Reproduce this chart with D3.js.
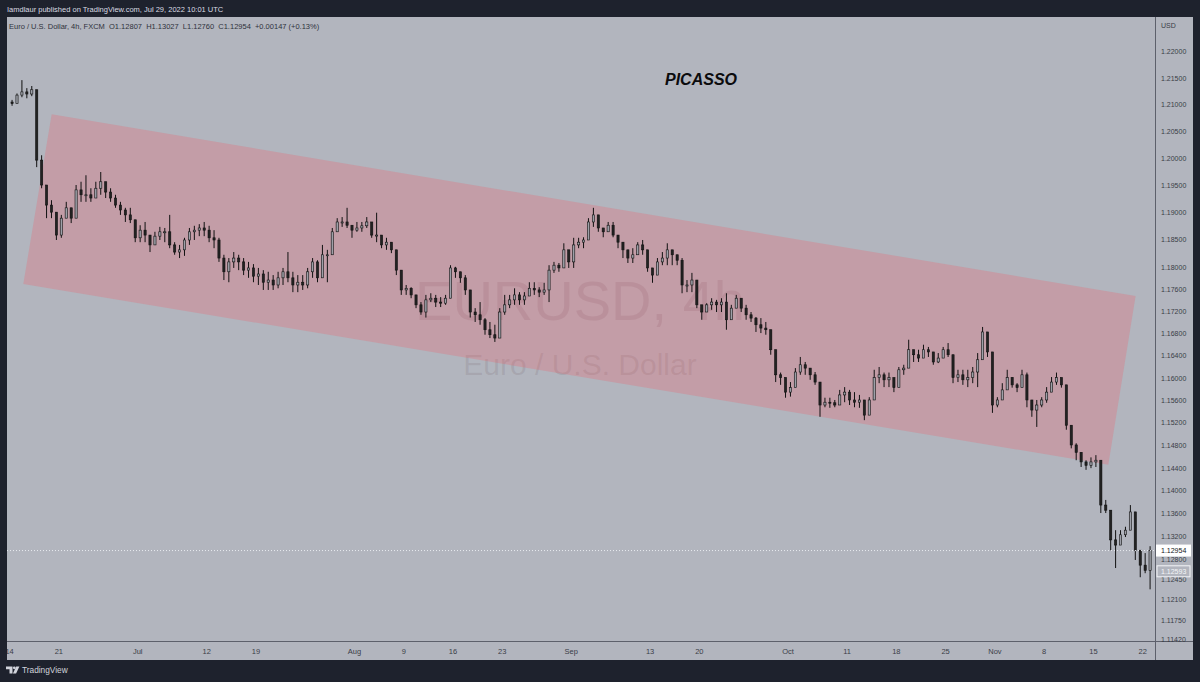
<!DOCTYPE html>
<html><head><meta charset="utf-8">
<script src="https://cdn.jsdelivr.net/npm/d3@7"></script>
<style>html,body{margin:0;padding:0;background:#1e222d;}svg{display:block;}</style>
</head><body><svg id="c" width="1200" height="682"></svg>
<script>
// ---------- DATA (EURUSD, 12h-resolution reading of the 4h chart) ----------
const openFirst = 1.2105;
const highs = [
1.2109,1.2121,1.2146,1.2131,1.2135,1.2128,1.2006,1.1927,1.1923,1.1890,
1.1896,1.1920,1.1909,1.1951,1.1957,1.1969,1.1945,1.1957,1.1975,1.1951,
1.1945,1.1933,1.1920,1.1909,1.1909,1.1883,1.1877,1.1883,1.1854,1.1865,
1.1874,1.1872,1.1896,1.1846,1.1841,1.1854,1.1872,1.1876,1.1879,1.1883,
1.1876,1.1868,1.1854,1.1823,1.1817,1.1828,1.1823,1.1817,1.1810,1.1806,
1.1799,1.1795,1.1792,1.1786,1.1792,1.1799,1.1828,1.1792,1.1786,1.1786,
1.1799,1.1817,1.1813,1.1841,1.1832,1.1872,1.1890,1.1892,1.1909,1.1877,
1.1883,1.1883,1.1892,1.1883,1.1900,1.1859,1.1854,1.1846,1.1828,1.1786,
1.1768,1.1764,1.1750,1.1737,1.1750,1.1753,1.1750,1.1746,1.1750,1.1804,
1.1801,1.1792,1.1786,1.1755,1.1726,1.1737,1.1708,1.1701,1.1696,1.1726,
1.1750,1.1750,1.1762,1.1755,1.1755,1.1773,1.1773,1.1764,1.1772,1.1804,
1.1810,1.1808,1.1844,1.1817,1.1854,1.1854,1.1855,1.1890,1.1909,1.1887,
1.1872,1.1883,1.1883,1.1859,1.1844,1.1828,1.1835,1.1846,1.1850,1.1823,
1.1799,1.1817,1.1828,1.1844,1.1828,1.1823,1.1817,1.1777,1.1790,1.1755,
1.1732,1.1735,1.1744,1.1741,1.1744,1.1753,1.1732,1.1750,1.1741,1.1732,
1.1719,1.1710,1.1708,1.1701,1.1683,1.1647,1.1610,1.1588,1.1593,1.1618,
1.1638,1.1629,1.1618,1.1611,1.1593,1.1565,1.1565,1.1561,1.1579,1.1584,
1.1579,1.1575,1.1570,1.1543,1.1566,1.1615,1.1620,1.1610,1.1610,1.1601,
1.1620,1.1624,1.1669,1.1651,1.1651,1.1660,1.1656,1.1638,1.1645,1.1656,
1.1663,1.1620,1.1615,1.1615,1.1615,1.1620,1.1645,1.1692,1.1681,1.1597,
1.1566,1.1591,1.1615,1.1602,1.1591,1.1615,1.1610,1.1561,1.1561,1.1566,
1.1584,1.1602,1.1610,1.1601,1.1584,1.1513,1.1484,1.1466,1.1454,1.1459,
1.1463,1.1449,1.1384,1.1366,1.1331,1.1331,1.1337,1.1375,1.1361,1.1296,
1.1291,1.1303];
const lows = [
1.2098,1.2103,1.2114,1.2112,1.2116,1.1984,1.1945,1.1890,1.1890,1.1850,
1.1854,1.1896,1.1881,1.1914,1.1920,1.1920,1.1920,1.1927,1.1933,1.1927,
1.1920,1.1909,1.1896,1.1883,1.1881,1.1846,1.1846,1.1846,1.1828,1.1841,
1.1850,1.1846,1.1835,1.1823,1.1817,1.1821,1.1841,1.1850,1.1857,1.1857,
1.1846,1.1835,1.1810,1.1777,1.1773,1.1799,1.1795,1.1786,1.1781,1.1773,
1.1768,1.1759,1.1759,1.1759,1.1762,1.1768,1.1773,1.1755,1.1755,1.1759,
1.1762,1.1781,1.1773,1.1781,1.1773,1.1823,1.1865,1.1874,1.1872,1.1854,
1.1865,1.1865,1.1872,1.1854,1.1846,1.1835,1.1832,1.1826,1.1786,1.1750,
1.1750,1.1744,1.1726,1.1714,1.1709,1.1737,1.1728,1.1728,1.1732,1.1744,
1.1781,1.1772,1.1750,1.1709,1.1701,1.1696,1.1678,1.1672,1.1665,1.1678,
1.1714,1.1726,1.1732,1.1732,1.1732,1.1750,1.1750,1.1746,1.1750,1.1737,
1.1790,1.1792,1.1810,1.1799,1.1799,1.1835,1.1835,1.1865,1.1874,1.1865,
1.1855,1.1865,1.1855,1.1835,1.1817,1.1808,1.1808,1.1826,1.1823,1.1792,
1.1772,1.1801,1.1804,1.1804,1.1804,1.1804,1.1753,1.1755,1.1755,1.1726,
1.1705,1.1719,1.1723,1.1719,1.1719,1.1687,1.1709,1.1732,1.1719,1.1705,
1.1701,1.1683,1.1681,1.1678,1.1642,1.1593,1.1588,1.1565,1.1567,1.1593,
1.1606,1.1606,1.1597,1.1588,1.1531,1.1548,1.1547,1.1548,1.1552,1.1557,
1.1552,1.1548,1.1547,1.1525,1.1540,1.1584,1.1591,1.1584,1.1584,1.1575,
1.1597,1.1606,1.1638,1.1629,1.1629,1.1642,1.1638,1.1624,1.1627,1.1636,
1.1638,1.1591,1.1593,1.1588,1.1584,1.1591,1.1584,1.1669,1.1638,1.1538,
1.1548,1.1561,1.1591,1.1583,1.1575,1.1584,1.1548,1.1531,1.1513,1.1548,
1.1556,1.1579,1.1588,1.1583,1.1508,1.1475,1.1454,1.1442,1.1437,1.1440,
1.1442,1.1361,1.1361,1.1296,1.1265,1.1314,1.1319,1.1349,1.1279,1.1249,
1.1256,1.1228];
const closes = [
1.2102,1.2118,1.2124,1.2120,1.2128,1.1997,1.1951,1.1914,1.1901,1.1859,
1.1890,1.1909,1.1890,1.1942,1.1933,1.1933,1.1927,1.1945,1.1957,1.1938,
1.1927,1.1914,1.1905,1.1896,1.1887,1.1854,1.1868,1.1859,1.1841,1.1857,
1.1865,1.1865,1.1841,1.1828,1.1832,1.1850,1.1865,1.1868,1.1872,1.1868,
1.1854,1.1850,1.1817,1.1792,1.1810,1.1817,1.1810,1.1795,1.1799,1.1784,
1.1788,1.1773,1.1777,1.1768,1.1781,1.1792,1.1781,1.1768,1.1773,1.1768,
1.1792,1.1810,1.1781,1.1823,1.1823,1.1865,1.1883,1.1883,1.1877,1.1868,
1.1872,1.1876,1.1883,1.1859,1.1859,1.1841,1.1846,1.1832,1.1795,1.1759,
1.1762,1.1750,1.1732,1.1719,1.1741,1.1744,1.1737,1.1735,1.1744,1.1799,
1.1792,1.1781,1.1759,1.1719,1.1714,1.1705,1.1687,1.1678,1.1672,1.1719,
1.1732,1.1741,1.1750,1.1741,1.1748,1.1762,1.1759,1.1755,1.1759,1.1795,
1.1804,1.1799,1.1832,1.1810,1.1841,1.1846,1.1850,1.1883,1.1896,1.1872,
1.1865,1.1877,1.1859,1.1846,1.1832,1.1817,1.1823,1.1841,1.1832,1.1799,
1.1786,1.1810,1.1817,1.1832,1.1823,1.1813,1.1768,1.1768,1.1777,1.1732,
1.1719,1.1732,1.1737,1.1732,1.1737,1.1705,1.1726,1.1744,1.1726,1.1714,
1.1708,1.1696,1.1690,1.1687,1.1651,1.1606,1.1601,1.1575,1.1583,1.1611,
1.1624,1.1618,1.1606,1.1593,1.1552,1.1557,1.1556,1.1552,1.1570,1.1575,
1.1561,1.1557,1.1561,1.1534,1.1561,1.1601,1.1606,1.1597,1.1601,1.1583,
1.1615,1.1618,1.1651,1.1642,1.1636,1.1651,1.1647,1.1629,1.1636,1.1651,
1.1642,1.1601,1.1606,1.1597,1.1601,1.1611,1.1633,1.1683,1.1647,1.1552,
1.1561,1.1579,1.1601,1.1588,1.1583,1.1606,1.1561,1.1543,1.1552,1.1561,
1.1575,1.1593,1.1601,1.1588,1.1516,1.1481,1.1468,1.1451,1.1445,1.1451,
1.1454,1.1375,1.1366,1.1314,1.1305,1.1323,1.1331,1.1363,1.1296,1.1270,
1.1261,1.12954];

// x-axis: trading-day index (Jun 14 2021 = 0)
const xTickDays   = [0,5,13,20,25,35,40,45,50,57,65,70,79,85,90,95,100,105,110,115];
const xTickLabels = ["14","21","Jul","12","19","Aug","9","16","23","Sep","13","20","Oct","11","18","25","Nov","8","15","22"];
// y-axis (log price scale)
const yTicks = [1.22,1.215,1.21,1.205,1.20,1.195,1.19,1.185,1.18,1.176,1.172,1.168,1.164,1.16,1.156,1.152,1.148,1.144,1.14,1.136,1.132,1.128,1.1245,1.121,1.1175,1.1142];
const lastPrice = 1.12954;
const otherLevel = 1.12593;
// parallel channel drawing (day, price) corners
const channelDays   = [4.27, 114.28, 111.51, 1.39];
const channelPrices = [1.2082, 1.1748, 1.1446, 1.1770];

// ---------- LAYOUT ----------
const W = 1200, H = 682;
const P = {left: 7, top: 17, right: 1193, bottom: 660, plotR: 1155, plotB: 641};
const FONT = "'Liberation Sans', Arial, sans-serif";

const svg = d3.select("#c");
const x = d3.scaleLinear().domain([0, 115]).range([9.6, 1142.7]);
const y = d3.scaleLog().domain([1.1175, 1.215]).range([620, 78]);

svg.append("rect").attr("width", W).attr("height", H).attr("fill", "#1e222d");
svg.append("rect").attr("x", P.left).attr("y", P.top)
  .attr("width", P.right - P.left).attr("height", P.bottom - P.top).attr("fill", "#b2b5be");

const defs = svg.append("defs");
defs.append("clipPath").attr("id", "plot").append("rect")
  .attr("x", P.left).attr("y", P.top).attr("width", P.plotR - P.left).attr("height", P.plotB - P.top);
defs.append("clipPath").attr("id", "xax").append("rect")
  .attr("x", P.left).attr("y", P.plotB).attr("width", P.plotR - P.left).attr("height", P.bottom - P.plotB);

const plot = svg.append("g").attr("clip-path", "url(#plot)");

// watermark
plot.append("text").attr("x", 580).attr("y", 320).attr("text-anchor", "middle")
  .attr("font-family", FONT).attr("font-size", 56).attr("fill", "rgba(110,85,100,0.17)")
  .text("EURUSD, 4h");
plot.append("text").attr("x", 580).attr("y", 375).attr("text-anchor", "middle")
  .attr("font-family", FONT).attr("font-size", 30).attr("fill", "rgba(110,85,100,0.17)")
  .text("Euro / U.S. Dollar");

// channel
plot.append("polygon")
  .attr("points", channelDays.map((d, i) => [x(d), y(channelPrices[i])].join(",")).join(" "))
  .attr("fill", "rgba(245,90,100,0.26)");

// candles
const bars = closes.map((c, i) => {
  const o = i === 0 ? openFirst : closes[i - 1];   // FX bar opens at previous close
  return {t: i * 0.5 + 0.25, o, c, h: Math.max(highs[i], o, c), l: Math.min(lows[i], o, c)};
});
const cg = plot.append("g");
cg.selectAll("line.w").data(bars).join("line")
  .attr("x1", d => x(d.t)).attr("x2", d => x(d.t))
  .attr("y1", d => y(d.h)).attr("y2", d => y(d.l))
  .attr("stroke", "#111").attr("stroke-width", 1);
cg.selectAll("rect.b").data(bars).join("rect")
  .attr("x", d => x(d.t) - 1.1).attr("width", 2.2)
  .attr("y", d => y(Math.max(d.o, d.c)))
  .attr("height", d => Math.max(1, Math.abs(y(d.o) - y(d.c))))
  .attr("fill", d => d.c >= d.o ? "#9da0a8" : "#222")
  .attr("stroke", "#111").attr("stroke-width", 0.6);

// last price dotted line
plot.append("line").attr("x1", P.left).attr("x2", P.plotR)
  .attr("y1", y(lastPrice)).attr("y2", y(lastPrice))
  .attr("stroke", "#e9ebf0").attr("stroke-width", 1).attr("stroke-dasharray", "1,2");

// separators
svg.append("line").attr("x1", P.plotR + 0.5).attr("x2", P.plotR + 0.5).attr("y1", P.top).attr("y2", P.bottom)
  .attr("stroke", "#5d606b");
svg.append("line").attr("x1", P.left).attr("x2", P.right).attr("y1", P.plotB + 0.5).attr("y2", P.plotB + 0.5)
  .attr("stroke", "#5d606b");

// y-axis labels
const ya = svg.append("g").attr("font-family", FONT).attr("font-size", 7).attr("fill", "#3a3d47");
ya.append("text").attr("x", 1161).attr("y", 28).text("USD");
ya.selectAll("text.t").data(yTicks).join("text")
  .attr("x", 1161).attr("y", d => y(d) + 2.5).text(d => d.toFixed(5));

// price labels
svg.append("rect").attr("x", P.plotR + 1).attr("y", y(lastPrice) - 6).attr("width", 35).attr("height", 12)
  .attr("fill", "#ffffff");
svg.append("text").attr("x", 1161).attr("y", y(lastPrice) + 2.5).attr("font-family", FONT)
  .attr("font-size", 7).attr("fill", "#131722").text(lastPrice.toFixed(5));
svg.append("rect").attr("x", P.plotR + 2).attr("y", y(otherLevel) - 5.5).attr("width", 33).attr("height", 11)
  .attr("fill", "#b2b5be").attr("stroke", "#f4f5f8").attr("stroke-width", 1);
svg.append("text").attr("x", 1161).attr("y", y(otherLevel) + 2.5).attr("font-family", FONT)
  .attr("font-size", 7).attr("fill", "#f4f5f8").text(otherLevel.toFixed(5));

// x-axis labels
svg.append("g").attr("clip-path", "url(#xax)").attr("font-family", FONT).attr("font-size", 7.5).attr("fill", "#3a3d47")
  .selectAll("text").data(xTickDays).join("text")
  .attr("x", d => x(d)).attr("y", 654).attr("text-anchor", "middle")
  .text((d, i) => xTickLabels[i]);

// header and legend
svg.append("text").attr("x", 7).attr("y", 12).attr("font-family", FONT).attr("font-size", 7.5)
  .attr("fill", "#d9dbe2").text("Iamdlaur published on TradingView.com, Jul 29, 2022 10:01 UTC");
svg.append("text").attr("x", 9).attr("y", 29).attr("font-family", FONT).attr("font-size", 7.5)
  .attr("fill", "#2f323c").attr("xml:space", "preserve")
  .text("Euro / U.S. Dollar, 4h, FXCM  O1.12807  H1.13027  L1.12760  C1.12954  +0.00147 (+0.13%)");

// title
svg.append("text").attr("x", 701).attr("y", 85).attr("text-anchor", "middle")
  .attr("font-family", FONT).attr("font-size", 16).attr("font-weight", "bold").attr("font-style", "italic")
  .attr("fill", "#0b0b0d").text("PICASSO");

// footer logo
const lg = svg.append("g").attr("fill", "#d1d4dc");
lg.append("path").attr("d", "M6,666.5 h6.5 v7 h-3 v-4.2 h-3.5 z");
lg.append("circle").attr("cx", 14.3).attr("cy", 667.8).attr("r", 1.4);
lg.append("path").attr("d", "M16.2,666.5 h3.2 l-3.3,7 h-3.2 z");
svg.append("text").attr("x", 22).attr("y", 673).attr("font-family", FONT).attr("font-size", 8.3)
  .attr("fill", "#d1d4dc").text("TradingView");
</script></body></html>
